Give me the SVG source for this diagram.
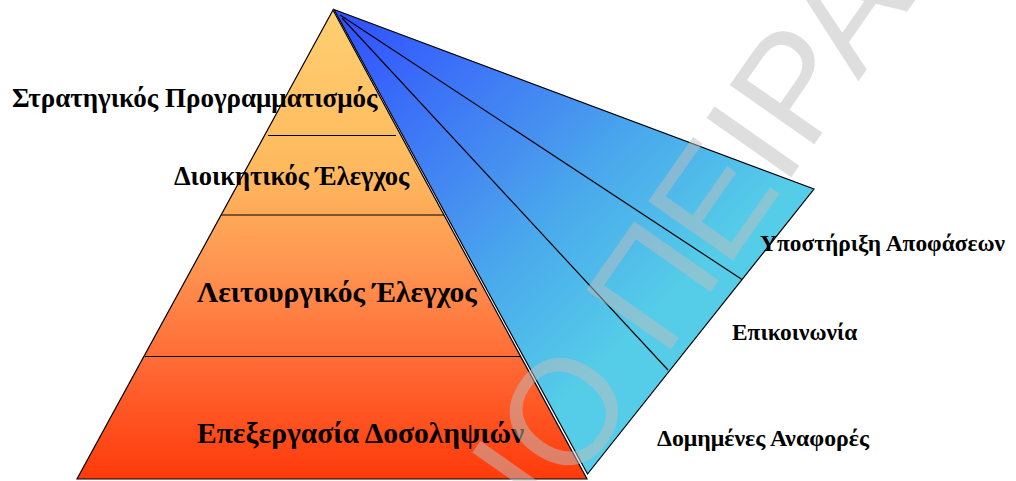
<svg xmlns="http://www.w3.org/2000/svg" width="1016" height="481" viewBox="0 0 1016 481">
  <defs>
    <linearGradient id="pyrGrad" gradientUnits="userSpaceOnUse" x1="0" y1="10" x2="0" y2="479">
      <stop offset="0" stop-color="#FFD070"/>
      <stop offset="0.35" stop-color="#FFB85E"/>
      <stop offset="0.55" stop-color="#FF9450"/>
      <stop offset="0.75" stop-color="#FF6A35"/>
      <stop offset="1" stop-color="#FF3A0A"/>
    </linearGradient>
    <linearGradient id="fanGrad" gradientUnits="userSpaceOnUse" x1="340" y1="20" x2="640" y2="330">
      <stop offset="0" stop-color="#3050FF"/>
      <stop offset="0.5" stop-color="#4690F0"/>
      <stop offset="0.68" stop-color="#4AAAEC"/>
      <stop offset="1" stop-color="#55CDE8"/>
    </linearGradient>
    <style>
      .edge { stroke: #000; stroke-width: 1.2; fill: none; }
      .lbl { font-family: "Liberation Serif", "Times New Roman", serif; font-weight: bold; fill: #000; }
      .wm { font-family: "Liberation Sans", Arial, sans-serif; fill: #BEBEBE; fill-opacity: 0.5; }
    </style>
  </defs>

  <g id="fan">
    <polygon points="334,9.5 814,189 587.5,474" fill="url(#fanGrad)" stroke="#000" stroke-width="1.2" stroke-linejoin="miter"/>
  </g>

  <g id="connectors">
    <line class="edge" x1="340" y1="15" x2="742" y2="279.5"/>
    <line class="edge" x1="342" y1="18" x2="668" y2="370"/>
  </g>

  <g id="pyramid">
    <polygon points="333,10 77,479 587,479" fill="url(#pyrGrad)" stroke="#000" stroke-width="1.2" stroke-linejoin="miter"/>
    <line class="edge" x1="268" y1="135.5" x2="396" y2="135.5"/>
    <line class="edge" x1="221" y1="215" x2="444" y2="215"/>
    <line class="edge" x1="145" y1="356.5" x2="520" y2="356.5"/>
  </g>

  <g id="level-strategic">
    <text class="lbl" x="12" y="107" font-size="27">Στρατηγικός Προγραμματισμός</text>
  </g>
  <g id="level-management">
    <text class="lbl" x="174" y="185" font-size="26.5">Διοικητικός Έλεγχος</text>
  </g>
  <g id="level-operational">
    <text class="lbl" x="197" y="302" font-size="29.5">Λειτουργικός Έλεγχος</text>
  </g>
  <g id="level-transactions">
    <text class="lbl" x="197" y="443" font-size="29.5">Επεξεργασία Δοσοληψιών</text>
  </g>

  <g id="out-decision">
    <text class="lbl" x="760" y="251" font-size="23.4">Υποστήριξη Αποφάσεων</text>
  </g>
  <g id="out-communication">
    <text class="lbl" x="732" y="340" font-size="23.4">Επικοινωνία</text>
  </g>
  <g id="out-reports">
    <text class="lbl" x="657" y="446" font-size="23.8">Δομημένες Αναφορές</text>
  </g>

  <g id="watermark">
    <text class="wm" font-size="150" transform="translate(663.7,359.2) rotate(-55)" x="-200" y="0">ΙΟ ΠΕΙΡΑ</text>
  </g>
</svg>
